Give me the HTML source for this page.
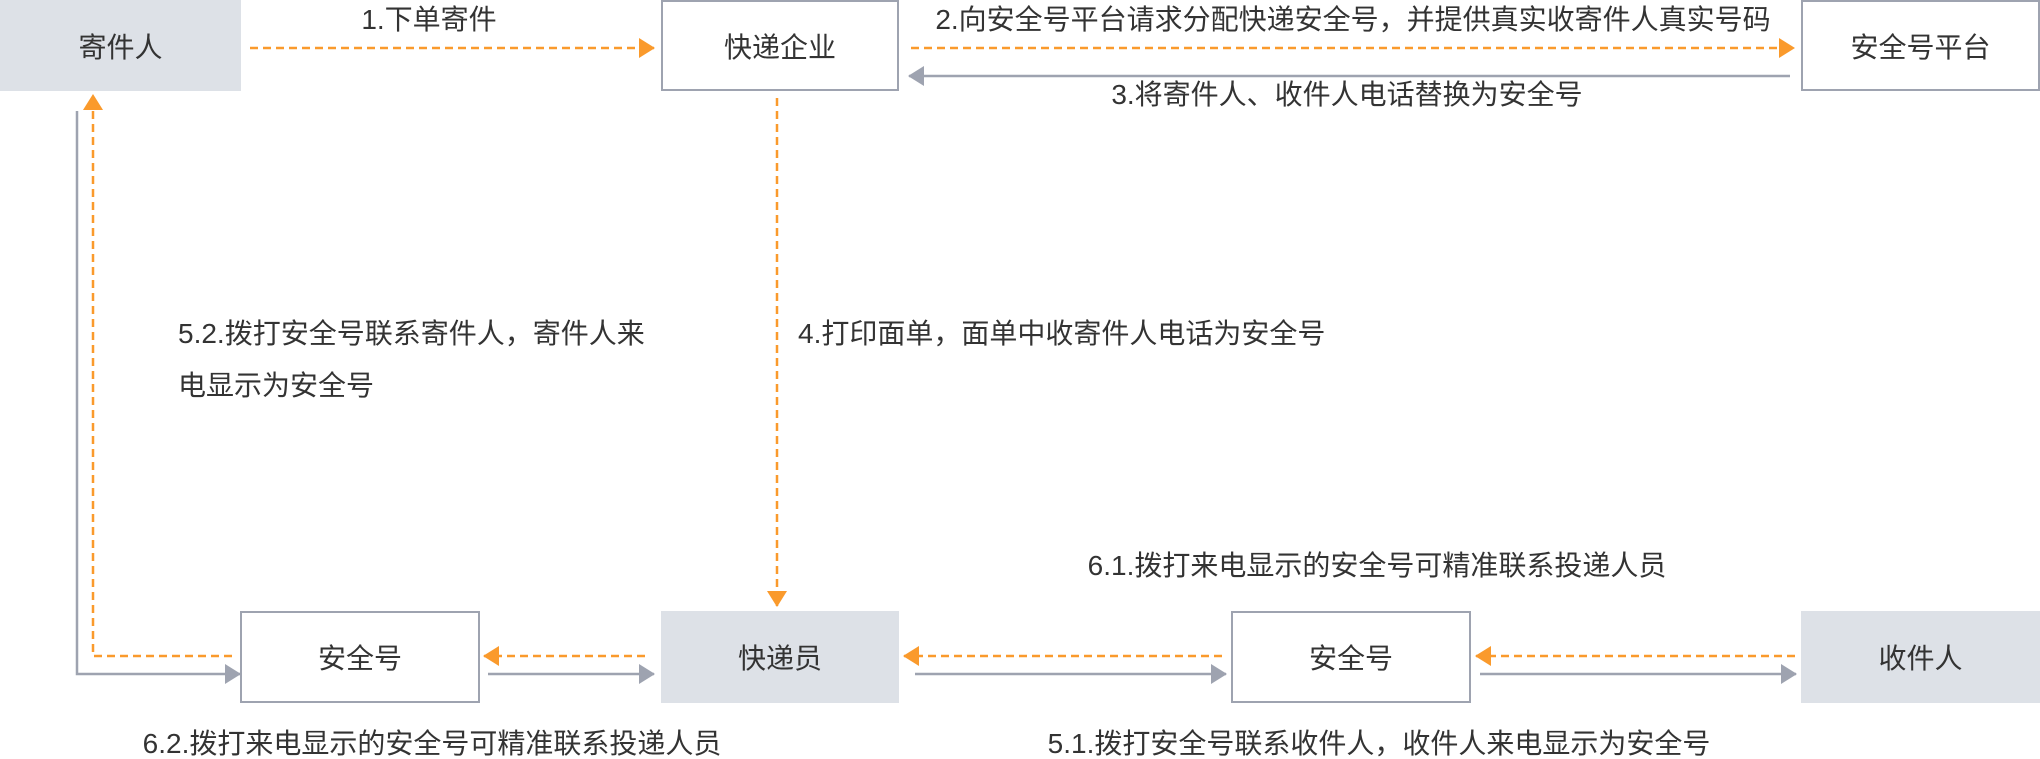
<!DOCTYPE html>
<html><head><meta charset="utf-8"><style>
body{margin:0;width:2040px;height:758px;background:#fff;overflow:hidden;position:relative;font-family:"Liberation Sans","Noto Sans CJK SC",sans-serif;color:#333}
.b{position:absolute;box-sizing:border-box;display:flex;align-items:center;justify-content:center;font-size:28px}
.f{background:#dde1e7}
.o{border:2.5px solid #9ea3b0;background:#fff}
.t{position:absolute;font-size:28px;white-space:nowrap;line-height:1}
.c{transform:translateX(-50%)}
svg{position:absolute;left:0;top:0}
</style></head><body>
<svg width="2040" height="758">
<defs>
<marker id="ao" markerWidth="16" markerHeight="20" refX="15" refY="10" orient="auto" markerUnits="userSpaceOnUse"><path d="M0,0 L16,10 L0,20 Z" fill="#fa9a2c"/></marker>
<marker id="ag" markerWidth="16" markerHeight="20" refX="15" refY="10" orient="auto" markerUnits="userSpaceOnUse"><path d="M0,0 L16,10 L0,20 Z" fill="#9ea3b0"/></marker>
</defs>
<g fill="none" stroke-width="2.5">
<g stroke="#fa9a2c" stroke-dasharray="8,5" marker-end="url(#ao)">
<path d="M250,48 H654"/>
<path d="M911,48 H1794"/>
<path d="M777,98 V606"/>
<path d="M232,656 H93 V95"/>
<path d="M645,656 H484"/>
<path d="M1222,656 H904"/>
<path d="M1795,656 H1476"/>
</g>
<g stroke="#9ea3b0" marker-end="url(#ag)">
<path d="M1790,76 H909"/>
<path d="M77,111 V674 H240"/>
<path d="M488,674 H654"/>
<path d="M915,674 H1226"/>
<path d="M1480,674 H1796"/>
</g>
</g>
</svg>
<div class="b f" style="left:0;top:0;width:241px;height:91px">寄件人</div>
<div class="b o" style="left:661px;top:0;width:238px;height:91px">快递企业</div>
<div class="b o" style="left:1801px;top:0;width:239px;height:91px">安全号平台</div>
<div class="b o" style="left:240px;top:611px;width:240px;height:92px">安全号</div>
<div class="b f" style="left:661px;top:611px;width:238px;height:92px">快递员</div>
<div class="b o" style="left:1231px;top:611px;width:240px;height:92px">安全号</div>
<div class="b f" style="left:1801px;top:611px;width:239px;height:92px">收件人</div>
<div class="t c" style="left:429px;top:6px">1.下单寄件</div>
<div class="t c" style="left:1353px;top:6px">2.向安全号平台请求分配快递安全号，并提供真实收寄件人真实号码</div>
<div class="t c" style="left:1347px;top:81px">3.将寄件人、收件人电话替换为安全号</div>
<div class="t" style="left:798px;top:320px">4.打印面单，面单中收寄件人电话为安全号</div>
<div class="t" style="left:178px;top:320px">5.2.拨打安全号联系寄件人，寄件人来</div>
<div class="t" style="left:178px;top:372px">电显示为安全号</div>
<div class="t c" style="left:1377px;top:552px">6.1.拨打来电显示的安全号可精准联系投递人员</div>
<div class="t c" style="left:432px;top:730px">6.2.拨打来电显示的安全号可精准联系投递人员</div>
<div class="t c" style="left:1379px;top:730px">5.1.拨打安全号联系收件人，收件人来电显示为安全号</div>
</body></html>
